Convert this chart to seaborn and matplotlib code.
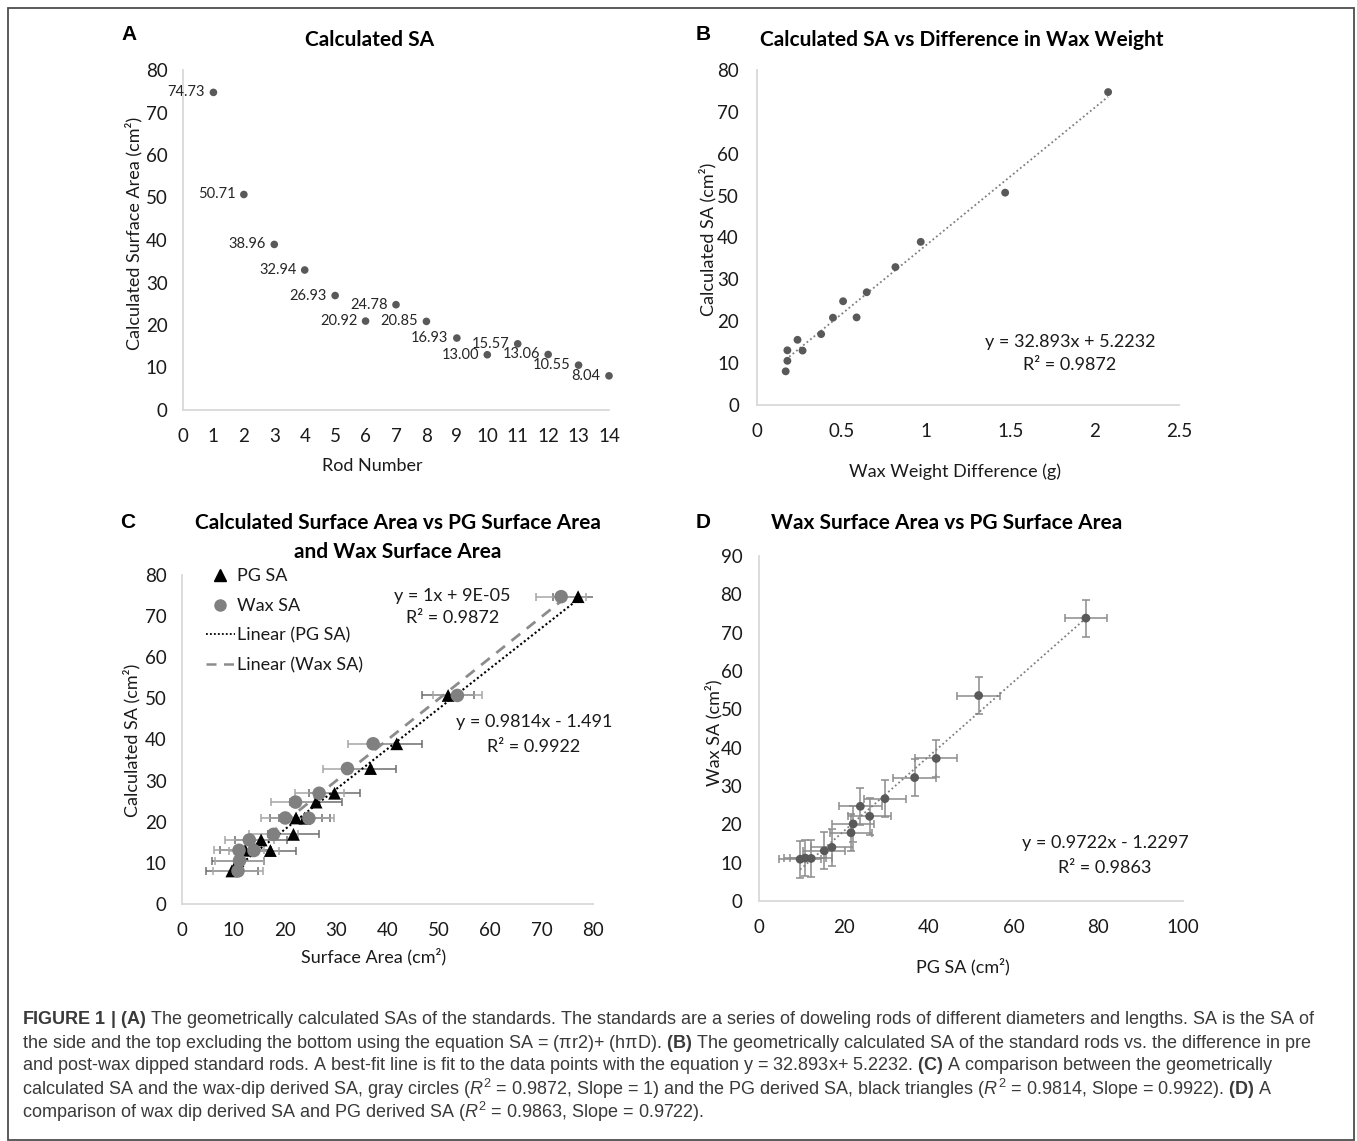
"""
Figura 1: quatro painéis (A-D) com a área superficial calculada dos bastões
padrão, comparações com cera e PG, e a legenda da figura por baixo.
"""

import matplotlib
matplotlib.use("Agg")
import matplotlib.pyplot as plt
from matplotlib.lines import Line2D
from matplotlib.patches import Rectangle
import pandas as pd
import seaborn as sns

# ---- dados -----------------------------------------------------------------
rod_number = list(range(1, 15))
calc_sa = [74.73, 50.71, 38.96, 32.94, 26.93, 20.92, 24.78,
           20.85, 16.93, 13.00, 15.57, 13.06, 10.55, 8.04]
wax_weight_diff = [2.08, 1.47, 0.97, 0.82, 0.65, 0.59, 0.51,
                   0.45, 0.38, 0.27, 0.24, 0.18, 0.18, 0.17]
pg_sa = [77.1, 51.8, 41.8, 36.7, 29.7, 22.2, 26.1,
         23.9, 21.7, 17.2, 15.4, 12.3, 10.9, 9.7]
wax_sa = [73.8, 53.6, 37.2, 32.2, 26.7, 20.1, 22.1,
          24.7, 17.8, 14.0, 13.1, 11.1, 11.2, 10.9]
pg_err = [4.9, 5.1, 5.0, 5.0, 5.0, 5.0, 5.0,
          5.0, 5.0, 5.0, 5.0, 5.0, 5.0, 5.0]
wax_err = [4.8, 4.8, 4.8, 4.8, 4.8, 4.8, 4.8,
           4.8, 4.8, 4.8, 4.8, 4.8, 4.8, 4.8]

b_xticks = [0, 0.5, 1, 1.5, 2, 2.5]

caption_lines = [
    r"$\mathbf{FIGURE\ 1\ |\ (A)}$ The geometrically calculated SAs of the standards. "
    r"The standards are a series of doweling rods of different diameters and lengths. SA is the SA of",
    r"the side and the top excluding the bottom using the equation SA = (πr2)+ (hπD). "
    r"$\mathbf{(B)}$ The geometrically calculated SA of the standard rods vs. the difference in pre",
    r"and post-wax dipped standard rods. A best-fit line is fit to the data points with the "
    r"equation y = 32.893x+ 5.2232. $\mathbf{(C)}$ A comparison between the geometrically",
    r"calculated SA and the wax-dip derived SA, gray circles ($R^2$ = 0.9872, Slope = 1) and the "
    r"PG derived SA, black triangles ($R^2$ = 0.9814, Slope = 0.9922). $\mathbf{(D)}$ A",
    r"comparison of wax dip derived SA and PG derived SA ($R^2$ = 0.9863, Slope = 0.9722).",
]

# ---- estilo ----------------------------------------------------------------
sns.set_theme(style="white")
plt.rcParams["font.family"] = ["Lato", "DejaVu Sans"]
plt.rcParams["mathtext.fontset"] = "custom"
plt.rcParams["mathtext.rm"] = "Liberation Sans"
plt.rcParams["mathtext.it"] = "Liberation Sans:italic"
plt.rcParams["mathtext.bf"] = "Liberation Sans:bold"

W, H = 1357, 1141
fig = plt.figure(figsize=(W / 100, H / 100), dpi=100)

INK = "#1a1a1a"
SPINE = "#d9d9d9"
DOT = "#595959"


def px_axes(x0, y0, x1, y1):
    return fig.add_axes([x0 / W, 1 - y1 / H, (x1 - x0) / W, (y1 - y0) / H])


def style(ax, xpad=12, ypad=11, ticklen=0):
    sns.despine(ax=ax)
    for s in ("left", "bottom"):
        ax.spines[s].set_color(SPINE)
        ax.spines[s].set_linewidth(1.3)
    ax.tick_params(axis="both", labelsize=13.5, labelcolor=INK,
                   length=ticklen, width=1.2, color=SPINE, direction="out")
    ax.tick_params(axis="x", pad=xpad)
    ax.tick_params(axis="y", pad=ypad)


def labels(ax, xlabel, ylabel, xpos, ypos):
    ax.set_xlabel(xlabel, fontsize=13, color=INK)
    ax.set_ylabel(ylabel, fontsize=13, color=INK)
    ax.xaxis.label.set_va("center")
    ax.yaxis.label.set_va("center")
    ax.xaxis.set_label_coords(*xpos)
    ax.yaxis.set_label_coords(*ypos)


def fig_text(x, y, s, **kw):
    return fig.text(x / W, 1 - y / H, s, **kw)


# ---- A ---------------------------------------------------------------------
ax_a = px_axes(183, 70, 609, 410)
df_a = pd.DataFrame({"rod": rod_number, "sa": calc_sa})
sns.scatterplot(data=df_a, x="rod", y="sa", ax=ax_a, color=DOT, s=30,
                edgecolor="none", clip_on=False, zorder=3)
for r, v in zip(rod_number, calc_sa):
    ax_a.annotate(f"{v:.2f}", (r, v), xytext=(-6, 0), textcoords="offset points",
                  ha="right", va="center", fontsize=10.5, color="#262626")
ax_a.set_xlim(0, 14)
ax_a.set_ylim(0, 80)
ax_a.set_xticks(range(0, 15))
ax_a.set_yticks(range(0, 81, 10))
style(ax_a, xpad=13, ypad=11)
labels(ax_a, "Rod Number", "Calculated Surface Area (cm²)", (0.444, -0.165), (-0.117, 0.52))

# ---- B ---------------------------------------------------------------------
ax_b = px_axes(757, 70, 1179, 405)
df_b = pd.DataFrame({"diff": wax_weight_diff, "sa": calc_sa})
sns.regplot(data=df_b, x="diff", y="sa", ax=ax_b, scatter=False, ci=None, truncate=True,
            line_kws=dict(color="#7f7f7f", lw=1.3, ls=(0, (1, 1.5))))
sns.scatterplot(data=df_b, x="diff", y="sa", ax=ax_b, color=DOT, s=32,
                edgecolor="none", zorder=3)
ax_b.set_xlim(0, 2.5)
ax_b.set_ylim(0, 80)
ax_b.set_xticks(b_xticks)
ax_b.set_xticklabels([f"{t:g}" for t in b_xticks])
ax_b.set_yticks(range(0, 81, 10))
style(ax_b, xpad=9, ypad=9, ticklen=4)
labels(ax_b, "Wax Weight Difference (g)", "Calculated SA (cm²)", (0.469, -0.2), (-0.116, 0.493))
ax_b.text(1.854, 15.0, "y = 32.893x + 5.2232", ha="center", va="center", fontsize=13, color=INK)
ax_b.text(1.854, 9.5, "R² = 0.9872", ha="center", va="center", fontsize=13, color=INK)

# ---- C ---------------------------------------------------------------------
ax_c = px_axes(182, 575, 593, 904)
ax_c.errorbar(pg_sa, calc_sa, xerr=pg_err, fmt="none", ecolor="#6e6e6e",
              elinewidth=1.1, capsize=3, capthick=1.1, zorder=1)
ax_c.errorbar(wax_sa, calc_sa, xerr=wax_err, fmt="none", ecolor="#a6a6a6",
              elinewidth=1.1, capsize=3, capthick=1.1, zorder=1)
df_c = pd.DataFrame({"calc": calc_sa, "pg": pg_sa, "wax": wax_sa})
sns.regplot(data=df_c, x="pg", y="calc", ax=ax_c, scatter=False, ci=None, truncate=True,
            line_kws=dict(color="black", lw=1.5, ls=(0, (1, 1.2)), zorder=2))
sns.regplot(data=df_c, x="wax", y="calc", ax=ax_c, scatter=False, ci=None, truncate=True,
            line_kws=dict(color="#8c8c8c", lw=2.0, ls=(0, (4, 3)), zorder=2))
sns.scatterplot(data=df_c, x="pg", y="calc", ax=ax_c, color="black", marker="^",
                s=85, edgecolor="none", zorder=3)
sns.scatterplot(data=df_c, x="wax", y="calc", ax=ax_c, color="#808080", marker="o",
                s=95, edgecolor="none", zorder=4)
ax_c.set_xlim(0, 80)
ax_c.set_ylim(0, 80)
ax_c.set_xticks(range(0, 81, 10))
ax_c.set_yticks(range(0, 81, 10))
style(ax_c, xpad=13, ypad=11)
labels(ax_c, "Surface Area (cm²)", "Calculated SA (cm²)", (0.465, -0.161), (-0.122, 0.498))
handles = [
    Line2D([], [], ls="none", marker="^", color="black", markersize=8),
    Line2D([], [], ls="none", marker="o", color="#808080", markersize=8),
    Line2D([], [], color="black", lw=1.3, ls=(0, (1, 1.2))),
    Line2D([], [], color="#8c8c8c", lw=1.8, ls=(0, (4, 3))),
]
ax_c.legend(handles, ["PG SA", "Wax SA", "Linear (PG SA)", "Linear (Wax SA)"],
            loc="upper left", bbox_to_anchor=(0.058, 1.02), frameon=False,
            fontsize=13, handlelength=1.6, handletextpad=0.1, labelspacing=0.75,
            borderpad=0, borderaxespad=0, labelcolor=INK)
ax_c.text(52.7, 74.9, "y = 1x + 9E-05", ha="center", va="center", fontsize=13, color=INK)
ax_c.text(52.7, 69.5, "R² = 0.9872", ha="center", va="center", fontsize=13, color=INK)
ax_c.text(68.5, 44.3, "y = 0.9814x - 1.491", ha="center", va="center", fontsize=13, color=INK)
ax_c.text(68.5, 38.2, "R² = 0.9922", ha="center", va="center", fontsize=13, color=INK)

# ---- D ---------------------------------------------------------------------
ax_d = px_axes(759, 556, 1183, 901)
ax_d.errorbar(pg_sa, wax_sa, xerr=pg_err, yerr=wax_err, fmt="none", ecolor="#8c8c8c",
              elinewidth=1.1, capsize=3, capthick=1.1, zorder=1)
df_d = pd.DataFrame({"pg": pg_sa, "wax": wax_sa})
sns.regplot(data=df_d, x="pg", y="wax", ax=ax_d, scatter=False, ci=None, truncate=True,
            line_kws=dict(color="#7f7f7f", lw=1.3, ls=(0, (1, 1.5)), zorder=2))
sns.scatterplot(data=df_d, x="pg", y="wax", ax=ax_d, color=DOT, s=40,
                edgecolor="none", zorder=3)
ax_d.set_xlim(0, 100)
ax_d.set_ylim(0, 90)
ax_d.set_xticks(range(0, 101, 20))
ax_d.set_yticks(range(0, 91, 10))
style(ax_d, xpad=13, ypad=12)
labels(ax_d, "PG SA (cm²)", "Wax SA (cm²)", (0.481, -0.191), (-0.108, 0.487))
ax_d.text(81.6, 15.1, "y = 0.9722x - 1.2297", ha="center", va="center", fontsize=13, color=INK)
ax_d.text(81.6, 8.6, "R² = 0.9863", ha="center", va="center", fontsize=13, color=INK)

# ---- títulos e letras dos painéis -----------------------------------------
title_kw = dict(fontsize=15, fontweight="bold", color="black", ha="center", va="center")
fig_text(370, 40, "Calculated SA", **title_kw)
fig_text(962, 40, "Calculated SA vs Difference in Wax Weight", **title_kw)
fig_text(398, 523, "Calculated Surface Area vs PG Surface Area", **title_kw)
fig_text(398, 552, "and Wax Surface Area", **title_kw)
fig_text(947, 523, "Wax Surface Area vs PG Surface Area", **title_kw)

letter_kw = dict(fontsize=15, fontweight="bold", color="black", ha="center", va="center",
                 family=["Liberation Sans", "DejaVu Sans"])
fig_text(129, 35, "A", **letter_kw)
fig_text(703, 35, "B", **letter_kw)
fig_text(128, 522, "C", **letter_kw)
fig_text(703, 522, "D", **letter_kw)

# ---- legenda da figura -----------------------------------------------------
for i, line in enumerate(caption_lines):
    fig_text(22, 1020 + 23 * i, line, fontsize=13.0, color="#3a3a3a", ha="left", va="center",
             family=["Liberation Sans", "DejaVu Sans"])

fig.add_artist(Rectangle((8 / W, 1 - 1140 / H), (1354 - 8) / W, (1140 - 8) / H,
                         transform=fig.transFigure, fill=False, edgecolor="#4d4d4d", lw=1.3))

fig.savefig("out.png", dpi=100)
